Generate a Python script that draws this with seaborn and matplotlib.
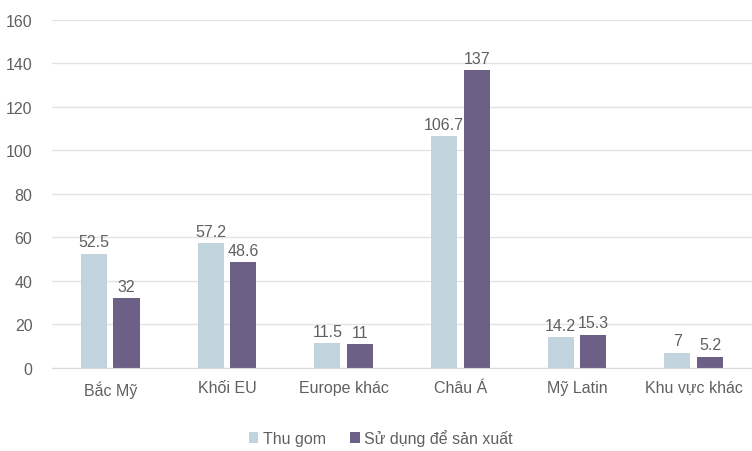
import numpy as np
import pandas as pd
import matplotlib.pyplot as plt
import seaborn as sns

categories = ["Bắc Mỹ", "Khối EU", "Europe khác", "Châu Á", "Mỹ Latin", "Khu vực khác"]
thu_gom = [52.5, 57.2, 11.5, 106.7, 14.2, 7]
su_dung = [32, 48.6, 11, 137, 15.3, 5.2]
series = ["Thu gom", "Sử dụng để sản xuất"]
colors = ["#bcd4e1", "#6a5a8c"]

df = pd.DataFrame({
    "region": categories * 2,
    "value": thu_gom + su_dung,
    "series": [series[0]] * len(categories) + [series[1]] * len(categories),
})

sns.set_style("white")
plt.rcParams["font.family"] = ["Liberation Sans", "DejaVu Sans"]
text_col = "#606060"

fig = plt.figure(figsize=(7.52, 4.52), dpi=100)
ax = fig.add_axes([0.069, 0.184, 0.931, 0.77])

sns.barplot(data=df, x="region", y="value", hue="series", palette=colors,
            width=0.56, gap=0.2, ax=ax, legend=True, linewidth=0)

for cont in ax.containers:
    labels = [f"{v:g}" for v in cont.datavalues]
    ax.bar_label(cont, labels=labels, padding=3, fontsize=11.5, color=text_col)

ax.set_ylim(0, 160)
ax.set_yticks(np.arange(0, 161, 20))
ax.set_xlim(-0.5, 5.5)
ax.yaxis.grid(True, color="#e3e3e3", linewidth=1)
ax.set_axisbelow(True)
for s in ["top", "right", "left"]:
    ax.spines[s].set_visible(False)
ax.spines["bottom"].set_color("#d9d9d9")
ax.set_xlabel("")
ax.set_ylabel("")
ax.tick_params(axis="both", length=0, labelsize=11.5, labelcolor=text_col)
ax.tick_params(axis="x", pad=9)
ax.tick_params(axis="y", pad=14)

ax.legend(loc="upper center", bbox_to_anchor=(0.47, -0.135), ncol=2, frameon=False,
          fontsize=11.5, labelcolor=text_col, handlelength=0.6, handleheight=0.6,
          handletextpad=0.3, columnspacing=1.5)

fig.savefig("out.png", dpi=100)
